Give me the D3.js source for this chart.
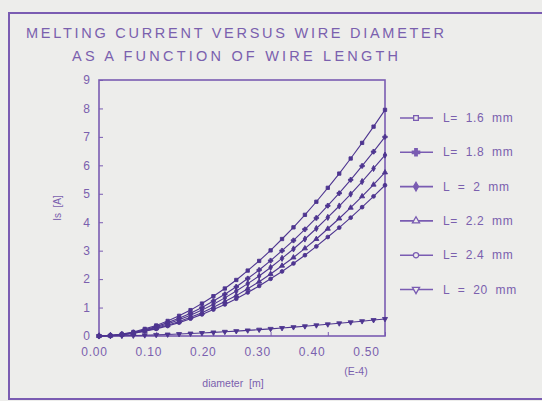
<!DOCTYPE html>
<html>
<head>
<meta charset="utf-8">
<script src="https://cdn.jsdelivr.net/npm/d3@7"></script>
<style>
  body { margin: 0; background: #ededeb; }
  svg { display: block; font-family: "Liberation Sans", Arial, sans-serif; }
  text { fill: #7a60ae; }
</style>
</head>
<body>
<svg id="chart" width="542" height="401"></svg>
<script>
// diameter in units of E-4 m
const diameters = [0, 0.02, 0.04, 0.06, 0.08, 0.10, 0.12, 0.14, 0.16, 0.18, 0.20, 0.22, 0.24,
  0.26, 0.28, 0.30, 0.32, 0.34, 0.36, 0.38, 0.40, 0.42, 0.44, 0.46, 0.48, 0.50];

const seriesNames = ['L=\u00a0 1.6 \u00a0mm', 'L=\u00a0 1.8 \u00a0mm', 'L \u00a0= \u00a02 \u00a0mm',
  'L=\u00a0 2.2 \u00a0mm', 'L=\u00a0 2.4 \u00a0mm', 'L \u00a0= \u00a020 \u00a0mm'];

const iL16 = [0, 0.02, 0.07, 0.14, 0.25, 0.37, 0.53, 0.71, 0.91, 1.14, 1.40, 1.67, 1.97,
  2.30, 2.64, 3.01, 3.41, 3.82, 4.26, 4.72, 5.21, 5.71, 6.24, 6.79, 7.36, 7.95];
const iL18 = [0, 0.02, 0.06, 0.12, 0.22, 0.33, 0.47, 0.62, 0.80, 1.00, 1.23, 1.47, 1.73,
  2.02, 2.32, 2.65, 3.00, 3.36, 3.75, 4.15, 4.58, 5.02, 5.49, 5.98, 6.48, 7.00];
const iL20 = [0, 0.02, 0.05, 0.11, 0.20, 0.30, 0.42, 0.57, 0.73, 0.91, 1.12, 1.34, 1.58,
  1.84, 2.11, 2.41, 2.73, 3.06, 3.41, 3.78, 4.17, 4.57, 4.99, 5.43, 5.89, 6.36];
const iL22 = [0, 0.01, 0.05, 0.10, 0.18, 0.27, 0.38, 0.51, 0.66, 0.82, 1.01, 1.21, 1.42,
  1.66, 1.91, 2.18, 2.47, 2.76, 3.08, 3.41, 3.77, 4.13, 4.51, 4.91, 5.32, 5.75];
const iL24 = [0, 0.01, 0.04, 0.09, 0.17, 0.25, 0.35, 0.47, 0.61, 0.76, 0.93, 1.11, 1.31,
  1.53, 1.76, 2.01, 2.27, 2.55, 2.84, 3.15, 3.48, 3.81, 4.16, 4.53, 4.91, 5.30];
const iL200 = [0, 0.003, 0.008, 0.016, 0.027, 0.039, 0.053, 0.069, 0.087, 0.106, 0.126, 0.149, 0.172,
  0.197, 0.224, 0.252, 0.281, 0.311, 0.343, 0.376, 0.411, 0.446, 0.483, 0.521, 0.56, 0.60];

const xTicks = [0, 0.1, 0.2, 0.3, 0.4, 0.5];
const yTicks = [0, 1, 2, 3, 4, 5, 6, 7, 8, 9];

const allSeries = [iL16, iL18, iL20, iL22, iL24, iL200];
const symbols = [d3.symbolSquare, d3.symbolCross, d3.symbolDiamond, d3.symbolTriangle, d3.symbolCircle, d3.symbolTriangle];

const frameColor = '#7a5cb2';
const lineColor = '#4e3590';
const font = '"Liberation Sans", Arial, sans-serif';

const svg = d3.select('#chart');
const margin = { left: 99, top: 80, right: 157, bottom: 65 };
const width = +svg.attr('width');
const height = +svg.attr('height');
const innerWidth = width - margin.left - margin.right;
const innerHeight = height - margin.top - margin.bottom;

// outer frame
svg.append('path')
  .attr('d', 'M542,13 H9 V399 H542')
  .attr('fill', 'none')
  .attr('stroke', frameColor)
  .attr('stroke-width', 2);

// title
svg.append('text')
  .attr('x', 26).attr('y', 38)
  .attr('font-size', 14.5)
  .attr('textLength', 418).attr('lengthAdjust', 'spacing')
  .text('MELTING CURRENT VERSUS WIRE DIAMETER');
svg.append('text')
  .attr('x', 72).attr('y', 61)
  .attr('font-size', 14.5)
  .attr('textLength', 326).attr('lengthAdjust', 'spacing')
  .text('AS A FUNCTION OF WIRE LENGTH');

const g = svg.append('g')
  .attr('transform', `translate(${margin.left},${margin.top})`);

const xScale = d3.scaleLinear().domain([0, 0.5]).range([0, innerWidth]);
const yScale = d3.scaleLinear().domain([0, 9]).range([innerHeight, 0]);

const xAxis = d3.axisBottom(xScale)
  .tickValues(xTicks)
  .tickFormat(d3.format('.2f'))
  .tickSize(-4)
  .tickPadding(11);
const yAxis = d3.axisLeft(yScale)
  .tickValues(yTicks)
  .tickFormat(d3.format('d'))
  .tickSize(-4)
  .tickPadding(9);

const xAxisG = g.append('g')
  .attr('transform', `translate(0,${innerHeight})`)
  .call(xAxis);
const yAxisG = g.append('g').call(yAxis);

[xAxisG, yAxisG].forEach(a => {
  a.select('.domain').remove();
  a.selectAll('line').attr('stroke', frameColor);
  a.selectAll('text').attr('fill', '#7a60ae').attr('font-size', 12)
    .attr('font-family', font);
});
xAxisG.selectAll('text').attr('letter-spacing', 0.8)
  // the old plotter spaces its labels slightly tighter than the ticks
  .attr('dx', (d, i) => -5 - 2.8 * i);

// plot frame
g.append('rect')
  .attr('width', innerWidth).attr('height', innerHeight)
  .attr('fill', 'none')
  .attr('stroke', frameColor)
  .attr('stroke-width', 1.6);

// axis labels
svg.append('text')
  .attr('x', 356).attr('y', 375)
  .attr('text-anchor', 'middle')
  .attr('font-size', 10.5)
  .text('(E-4)');
svg.append('text')
  .attr('x', 233).attr('y', 387)
  .attr('text-anchor', 'middle')
  .attr('font-size', 10.5)
  .text('diameter\u00a0 [m]');
svg.append('text')
  .attr('transform', 'translate(61,208) rotate(-90)')
  .attr('text-anchor', 'middle')
  .attr('font-size', 10)
  .text('Is\u00a0 [A]');

// curves
const line = d3.line()
  .x((d, i) => xScale(diameters[i]))
  .y(d => yScale(d));

allSeries.forEach((vals, k) => {
  g.append('path')
    .datum(vals)
    .attr('fill', 'none')
    .attr('stroke', lineColor)
    .attr('stroke-width', 1.1)
    .attr('d', line);
  g.selectAll(null).data(vals)
    .enter().append('path')
    .attr('d', d3.symbol().type(symbols[k]).size(11))
    .attr('transform', (d, i) => `translate(${xScale(diameters[i])},${yScale(d)})${k === 5 ? ' rotate(180)' : ''}`)
    .attr('fill', lineColor)
    .attr('stroke', lineColor)
    .attr('stroke-width', 0.9);
});

// legend
const legend = svg.append('g').attr('transform', 'translate(400,118)');
seriesNames.forEach((name, k) => {
  const row = legend.append('g').attr('transform', `translate(0,${k * 34.3})`);
  row.append('line')
    .attr('x1', 0).attr('x2', 33)
    .attr('stroke', frameColor).attr('stroke-width', 1.6);
  row.append('path')
    .attr('d', d3.symbol().type(symbols[k]).size(k === 1 ? 30 : 22))
    .attr('transform', `translate(16,0)${k === 5 ? ' rotate(180)' : ''}`)
    .attr('fill', k === 1 || k === 2 ? frameColor : '#ededeb')
    .attr('stroke', frameColor)
    .attr('stroke-width', 1.3);
  row.append('text')
    .attr('x', 43).attr('y', 4)
    .attr('font-size', 12)
    .attr('letter-spacing', 0.6)
    .text(name);
});
</script>
</body>
</html>
